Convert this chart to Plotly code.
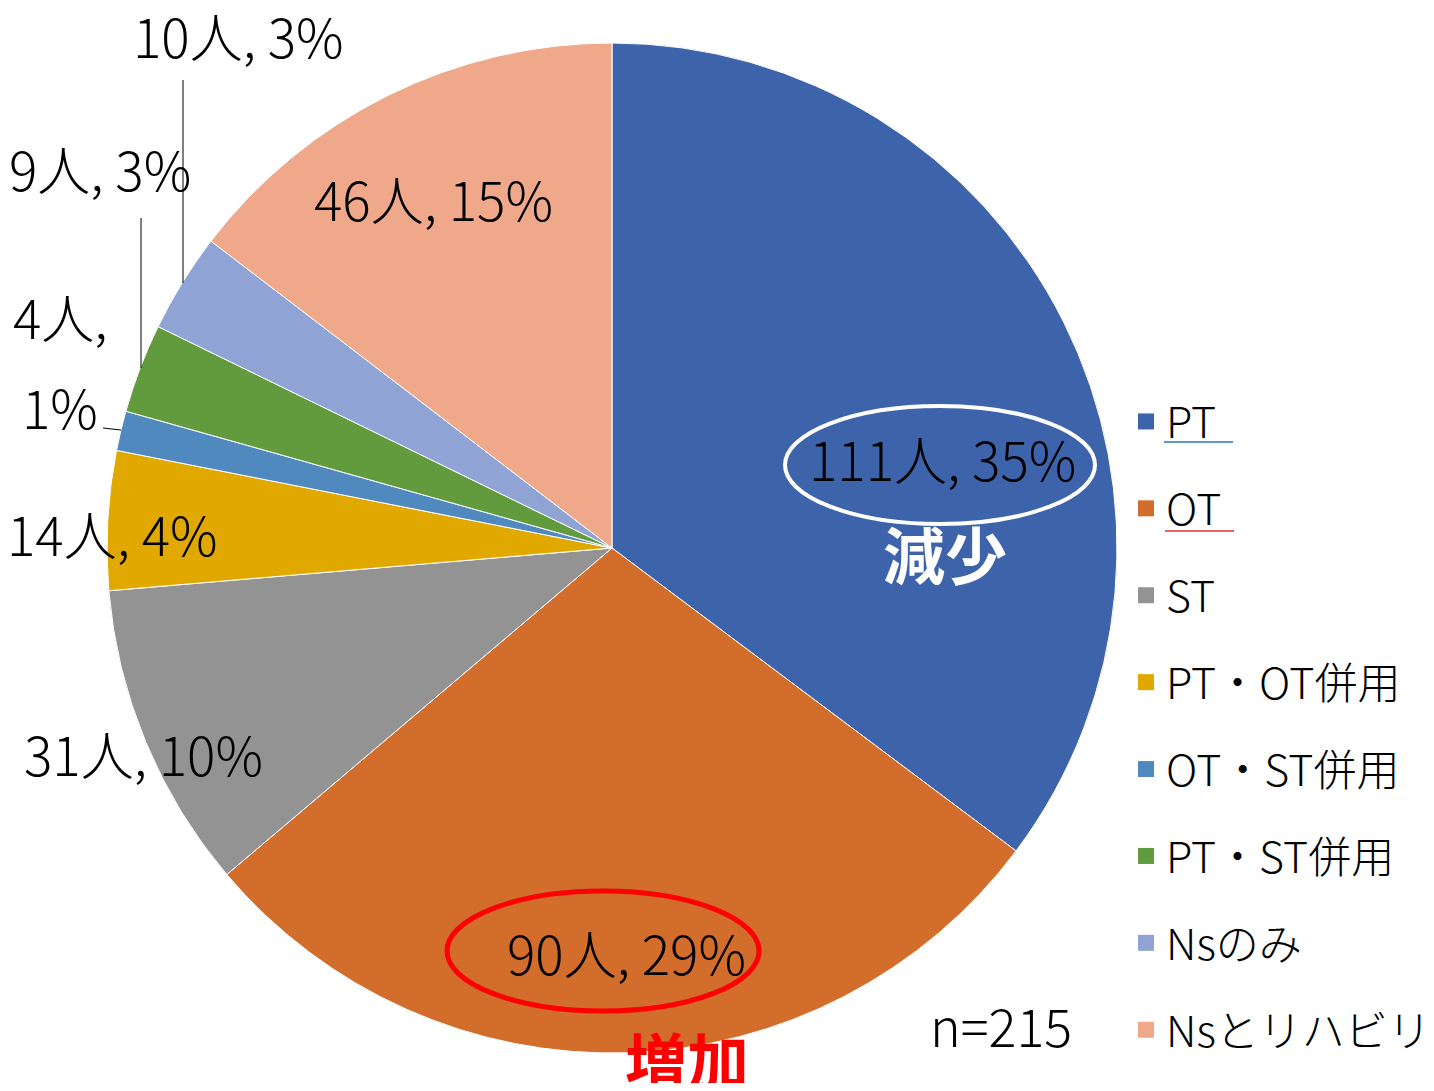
import plotly.graph_objects as go

# the page puts the plot 8px in from the top-left corner
OFF = 8
W, H = 1418, 1075
FONT = "Noto Sans CJK JP"

categories = ["PT", "OT", "ST", "PT・OT併用", "OT・ST併用", "PT・ST併用", "Nsのみ", "Nsとリハビリ"]
counts = [111, 90, 31, 14, 4, 9, 10, 46]
colors = ["#3D64AB", "#D26D2B", "#939393", "#E1A900", "#4F89BD", "#629A3E", "#8FA3D4", "#F0A88B"]
n_label = "n=215"


def px(x, y):
    # screen pixels -> paper coords
    return (x - OFF) / W, 1 - (y - OFF) / H


total = sum(counts)
labels = [f"{c}人, {round(100 * c / total)}%" for c in counts]

fig = go.Figure()

x0, y0 = px(107, 1053)
x1, y1 = px(1117, 43)
fig.add_trace(go.Pie(
    labels=categories, values=counts,
    sort=False, direction="clockwise", rotation=0,
    marker=dict(colors=colors, line=dict(color="white", width=1)),
    textinfo="none", hoverinfo="label+value+percent",
    showlegend=False,
    domain=dict(x=[x0, x1], y=[y0, y1]),
))

# legend entries
for cat, col in zip(categories, colors):
    fig.add_trace(go.Scatter(
        x=[None], y=[None], mode="markers", name=cat, legendgroup=cat,
        marker=dict(symbol="square", size=16, color=col),
    ))

label_font = dict(family=FONT, size=53, color="black", weight=300)

# data label positions (centre of text, screen px)
label_pos = {
    0: (942, 458),
    1: (626, 952),
    2: (143, 753),
    3: (112, 533),
    5: (100, 168),
    6: (238, 35),
    7: (434, 198),
}
annotations = []
for i, (x, y) in label_pos.items():
    ax, ay = px(x, y)
    annotations.append(dict(x=ax, y=ay, xref="paper", yref="paper", text=labels[i],
                            showarrow=False, font=label_font,
                            xanchor="center", yanchor="middle"))
# small slice label wraps onto two lines
part_a, part_b = labels[4].split(" ")
for txt, (x, y) in [(part_a, (60, 316)), (part_b, (60, 406))]:
    ax, ay = px(x, y)
    annotations.append(dict(x=ax, y=ay, xref="paper", yref="paper", text=txt,
                            showarrow=False, font=label_font,
                            xanchor="center", yanchor="middle"))

for txt, (x, y), col, size in [("減少", (945, 553), "white", 62),
                               ("増加", (687, 1059), "red", 62)]:
    ax, ay = px(x, y)
    annotations.append(dict(x=ax, y=ay, xref="paper", yref="paper", text=f"<b>{txt}</b>",
                            showarrow=False, font=dict(family=FONT, size=size, color=col),
                            xanchor="center", yanchor="middle"))

ax, ay = px(1001, 1024)
annotations.append(dict(x=ax, y=ay, xref="paper", yref="paper", text=n_label,
                        showarrow=False, font=dict(family=FONT, size=52, color="black", weight=300),
                        xanchor="center", yanchor="middle"))

shapes = []
# leader lines
for (xa, ya), (xb, yb) in [((183, 80), (183, 283)), ((141, 218), (141, 368)), ((103, 428), (121, 430))]:
    a, b = px(xa, ya)
    c, d = px(xb, yb)
    shapes.append(dict(type="line", xref="paper", yref="paper", x0=a, y0=b, x1=c, y1=d,
                       line=dict(color="black", width=1)))
# ellipses
for (cx, cy, rx, ry), col, lw in [((940, 465, 155, 59), "white", 4), ((603, 951, 156, 60), "red", 5)]:
    a, b = px(cx - rx, cy + ry)
    c, d = px(cx + rx, cy - ry)
    shapes.append(dict(type="circle", xref="paper", yref="paper", x0=a, y0=b, x1=c, y1=d,
                       line=dict(color=col, width=lw)))
# underlines in legend
for (xa, xb, y), col in [((1164, 1233, 442), "#2E75B6"), ((1165, 1234, 531), "#E03030")]:
    a, b = px(xa, y)
    c, d = px(xb, y)
    shapes.append(dict(type="line", xref="paper", yref="paper", x0=a, y0=b, x1=c, y1=d,
                       line=dict(color=col, width=1.5)))

lx, ly = px(1126, 387)
fig.update_layout(
    width=W, height=H,
    margin=dict(l=0, r=0, t=0, b=0, autoexpand=False),
    paper_bgcolor="white", plot_bgcolor="white",
    font=dict(family=FONT, color="black"),
    xaxis=dict(visible=False), yaxis=dict(visible=False),
    legend=dict(x=lx, y=ly, xanchor="left", yanchor="top",
                font=dict(family=FONT, size=43, color="black", weight=300),
                tracegroupgap=28, bgcolor="rgba(0,0,0,0)"),
    annotations=annotations,
    shapes=shapes,
)

fig.write_html("out.html")
